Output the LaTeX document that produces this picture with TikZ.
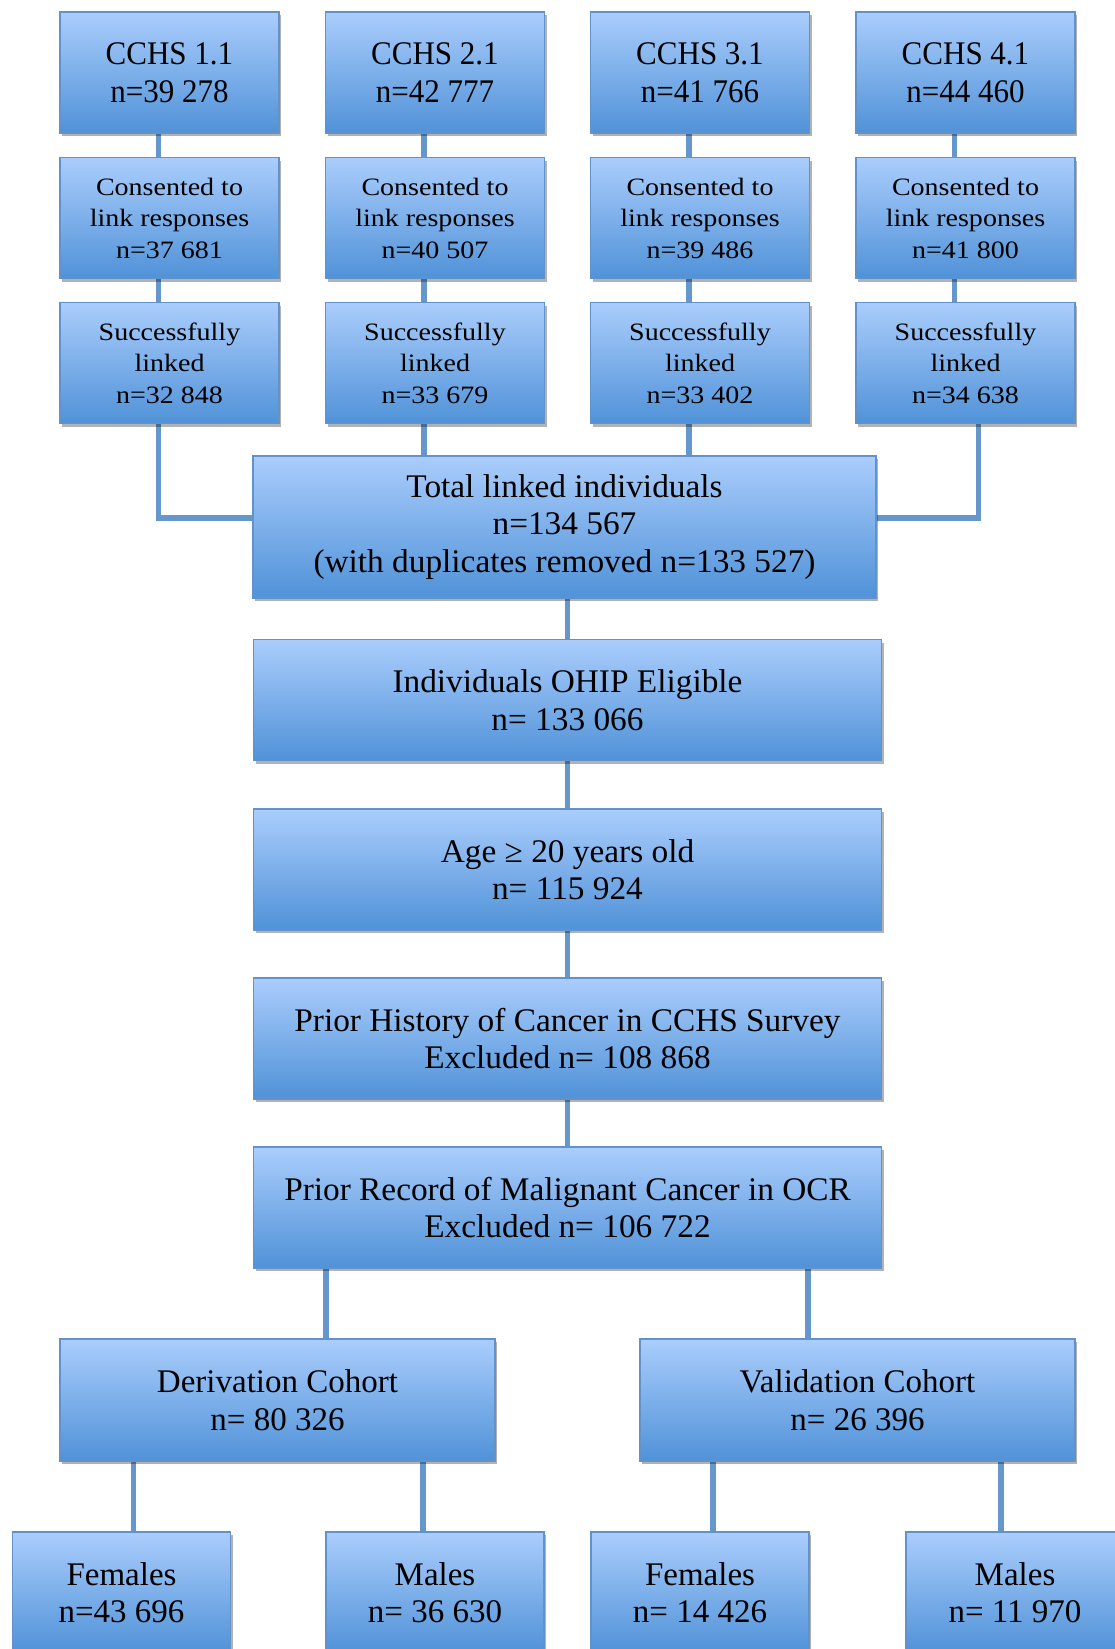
\documentclass[tikz,border=0pt]{standalone}
\usepackage{fontspec}
\setmainfont{Liberation Serif}
\newfontfamily\topfont[FakeStretch=0.94]{Liberation Serif}
\newfontfamily\midfont[FakeStretch=1.01]{Liberation Serif}
\newfontfamily\smallfont[FakeStretch=1.12]{Liberation Serif}
\usetikzlibrary{shadows,backgrounds}
\definecolor{boxtop}{RGB}{170,205,252}
\definecolor{boxbot}{RGB}{80,146,216}
\definecolor{boxline}{RGB}{98,146,204}
\definecolor{linkcol}{RGB}{101,151,204}

\begin{document}
\begin{tikzpicture}[x=1pt,y=-1pt,
    stage/.style={draw=boxline, line width=1.5pt, top color=boxtop, bottom color=boxbot,
      drop shadow={shadow xshift=2pt, shadow yshift=-3pt, fill=black, opacity=0.3},
      align=center, inner sep=0pt},
    survey/.style={stage, minimum width=219pt, minimum height=121pt, font=\topfont\fontsize{33}{38}\selectfont},
    substep/.style={stage, minimum width=219pt, minimum height=121pt, font=\smallfont\fontsize{25}{31.5}\selectfont},
    wide/.style={stage, minimum width=628pt, minimum height=121pt, font=\midfont\fontsize{33}{37.5}\selectfont},
    cohort/.style={stage, minimum width=435pt, minimum height=122pt, font=\fontsize{33}{37.5}\selectfont},
    sex/.style={stage, minimum width=218pt, minimum height=121pt, font=\fontsize{33}{37.5}\selectfont},
    link/.style={draw=linkcol, line width=5.5pt}
]
\clip (0,0) rectangle (1115,1649);

% four survey cycles
\foreach \i/\x/\a/\b/\c in {1/169.5/39 278/37 681/32 848, 2/435/42 777/40 507/33 679,
                            3/700/41 766/39 486/33 402, 4/965.5/44 460/41 800/34 638}{
  \node[survey] (c\i) at (\x,72.5) {CCHS \i.1\\n=\a};
  \node[substep] (k\i) at (\x,218) {Consented to\\link responses\\n=\b};
  \node[substep] (s\i) at (\x,363) {Successfully\\linked\\n=\c};
}

\node[stage, minimum width=623pt, minimum height=142pt, font=\midfont\fontsize{33}{37.5}\selectfont]
  (tot) at (564.5,527) {Total linked individuals\\n=134 567\\(with duplicates removed n=133 527)};
\node[wide] (ohip) at (567.5,700) {Individuals OHIP Eligible\\n= 133 066};
\node[wide] (age) at (567.5,869.5) {Age ≥ 20 years old\\n= 115 924};
\node[wide] (hist) at (567.5,1038.5) {Prior History of Cancer in CCHS Survey\\Excluded n= 108 868};
\node[wide] (rec) at (567.5,1207.5) {Prior Record of Malignant Cancer in OCR\\Excluded n= 106 722};

\node[cohort] (der) at (277.5,1400) {Derivation Cohort\\n= 80 326};
\node[cohort] (val) at (857.5,1400) {Validation Cohort\\n= 26 396};

\node[sex] (df) at (121.5,1592.5) {Females\\n=43 696};
\node[sex] (dm) at (435,1592.5) {Males\\n= 36 630};
\node[sex] (vf) at (700,1592.5) {Females\\n= 14 426};
\node[sex] (vm) at (1015,1592.5) {Males\\n= 11 970};

% connectors
\begin{scope}[on background layer]
\foreach \i in {1,...,4}{
  \draw[link] ([xshift=-11pt]c\i.south) -- ([xshift=-11pt]k\i.north);
  \draw[link] ([xshift=-11pt]k\i.south) -- ([xshift=-11pt]s\i.north);
}
\draw[link] ([xshift=-11pt]s1.south) |- ([yshift=9pt]tot.west);
\draw[link] ([xshift=-11pt]s2.south) -- ([xshift=-11pt]s2.south |- tot.north);
\draw[link] ([xshift=-11pt]s3.south) -- ([xshift=-11pt]s3.south |- tot.north);
\draw[link] ([yshift=9pt]tot.east) -| ([xshift=13pt]s4.south);
\draw[link] (tot.south -| ohip.north) -- (ohip.north);
\draw[link] (ohip) -- (age);
\draw[link] (age) -- (hist);
\draw[link] (hist) -- (rec);
\draw[link] ([xshift=48.5pt]der.north) -- ([xshift=48.5pt]der.north |- rec.south);
\draw[link] ([xshift=-49.5pt]val.north) -- ([xshift=-49.5pt]val.north |- rec.south);
\draw[link] ([xshift=12pt]df.north) -- ([xshift=12pt]df.north |- der.south);
\draw[link] ([xshift=-12pt]dm.north) -- ([xshift=-12pt]dm.north |- der.south);
\draw[link] ([xshift=13pt]vf.north) -- ([xshift=13pt]vf.north |- val.south);
\draw[link] ([xshift=-14pt]vm.north) -- ([xshift=-14pt]vm.north |- val.south);
\end{scope}

\end{tikzpicture}
\end{document}
